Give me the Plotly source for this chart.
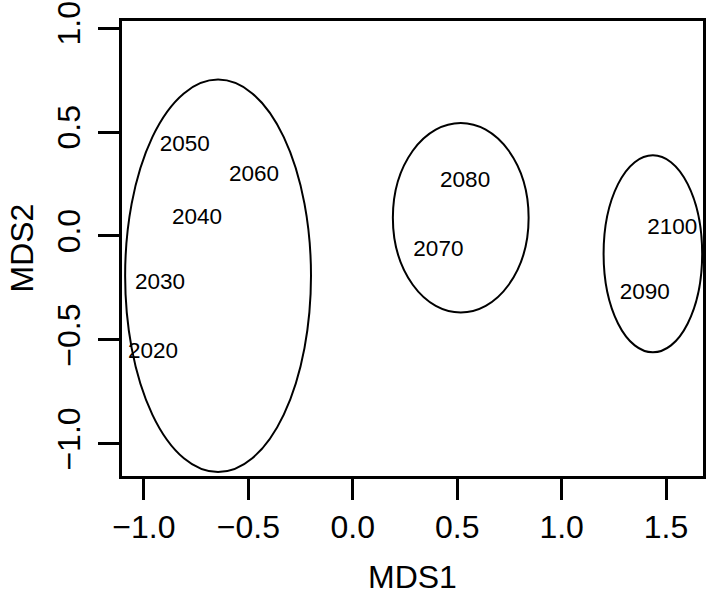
import plotly.graph_objects as go

# Point labels (years) and their MDS coordinates
years = ["2020", "2030", "2040", "2050", "2060", "2070", "2080", "2090", "2100"]
mds1 = [-0.957, -0.923, -0.746, -0.804, -0.473, 0.410, 0.538, 1.398, 1.530]
mds2 = [-0.560, -0.227, 0.085, 0.438, 0.292, -0.069, 0.264, -0.277, 0.036]

# Group ellipses: centres and semi-axes
ell_cx = [-0.645, 0.517, 1.437]
ell_cy = [-0.192, 0.0875, -0.086]
ell_rx = [0.445, 0.325, 0.236]
ell_ry = [0.944, 0.456, 0.474]

x_ticks = [-1.0, -0.5, 0.0, 0.5, 1.0, 1.5]
y_ticks = [-1.0, -0.5, 0.0, 0.5, 1.0]
x_range = [-1.105, 1.677]
y_range = [-1.155, 1.034]

FONT = "Liberation Sans, Arial, sans-serif"

fig = go.Figure()
fig.add_trace(go.Scatter(
    x=mds1, y=mds2, text=years, mode="text",
    textposition="middle center",
    textfont=dict(family=FONT, size=22.5, color="black"),
    hoverinfo="skip", showlegend=False, cliponaxis=False,
))

for cx, cy, rx, ry in zip(ell_cx, ell_cy, ell_rx, ell_ry):
    fig.add_shape(type="circle", xref="x", yref="y",
                  x0=cx - rx, x1=cx + rx, y0=cy - ry, y1=cy + ry,
                  line=dict(color="black", width=2), fillcolor="rgba(0,0,0,0)")

axis_common = dict(
    showgrid=False, zeroline=False, showline=True, mirror=True,
    linecolor="black", linewidth=3, ticks="outside", ticklen=21,
    tickwidth=2.5, tickcolor="black", tickformat=".1f",
    ticklabeloverflow="allow", automargin=False,
    tickfont=dict(family=FONT, size=32, color="black"),
)

fig.update_xaxes(range=x_range, tickvals=x_ticks, **axis_common)
fig.update_yaxes(range=y_range, tickvals=y_ticks, tickangle=-90,
                 ticklabelstandoff=5, **axis_common)

fig.add_annotation(text="MDS1", xref="paper", yref="paper", x=0.5, y=0,
                   yshift=-101, showarrow=False, xanchor="center", yanchor="middle",
                   font=dict(family=FONT, size=32, color="black"))
fig.add_annotation(text="MDS2", xref="paper", yref="paper", x=0, y=0.5,
                   xshift=-101, showarrow=False, xanchor="center", yanchor="middle",
                   textangle=-90, font=dict(family=FONT, size=32, color="black"))

fig.update_layout(
    width=709, height=594,
    margin=dict(l=122, r=6, t=21, b=118, pad=0, autoexpand=False),
    plot_bgcolor="white", paper_bgcolor="white",
)

# remove the page's default body margin so the figure fills the window exactly
fig.write_html("out.html",
               config={"displayModeBar": False},
               post_script="document.body.style.margin='0';document.body.style.overflow='hidden';")
